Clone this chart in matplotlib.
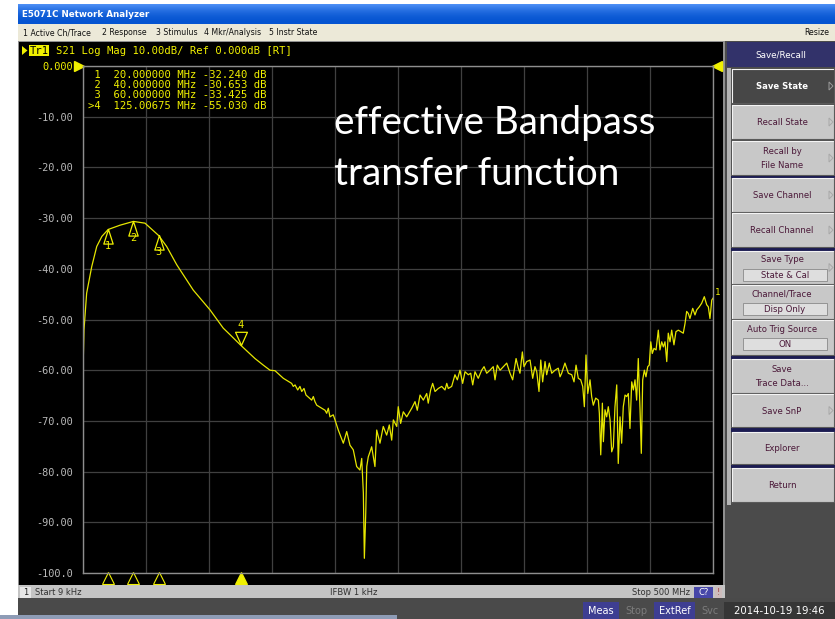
import numpy as np
import matplotlib.pyplot as plt
from matplotlib.patches import Rectangle, Polygon
from matplotlib.transforms import blended_transform_factory

W, H = 835, 619

# S21 trace, frequency in MHz and magnitude in dB
freq_mhz = [
    0.009, 0.8, 2.9, 6.9, 10.9, 15.0, 20.0, 29.4, 40.0, 49.2,
    60.0, 66.4, 74.4, 87.5, 100.8, 111.3, 116.7, 125.0, 136.5, 143.1,
    148.4, 152.4, 159.0, 165.6, 166.9, 168.3, 170.4, 172.2, 173.6, 175.4,
    177.0, 181.5, 182.8, 184.1, 185.5, 189.4, 192.1, 193.4, 194.7, 196.0,
    198.6, 200.0, 202.6, 206.6, 209.3, 211.9, 214.5, 217.2, 219.8, 221.2,
    222.5, 223.3, 224.4, 225.2, 226.4, 227.8, 229.1, 231.7, 233.1, 235.7,
    238.3, 241.0, 243.1, 245.0, 246.3, 249.0, 250.2, 252.1, 254.2, 256.9,
    260.9, 263.5, 265.3, 267.5, 270.1, 272.8, 274.0, 275.9, 277.5, 279.4,
    282.0, 284.7, 287.3, 288.7, 289.9, 292.6, 295.2, 297.1, 299.2, 301.3,
    303.2, 305.8, 307.7, 309.3, 311.1, 313.7, 316.4, 318.3, 320.4, 323.0,
    325.6, 327.0, 328.8, 331.0, 333.6, 336.3, 338.9, 341.0, 343.7, 345.5,
    346.8, 348.7, 350.0, 352.1, 354.8, 356.9, 358.7, 360.1, 361.9, 363.3,
    364.8, 366.7, 368.0, 370.1, 372.0, 374.6, 377.2, 378.6, 379.9, 382.5,
    385.2, 387.9, 389.7, 391.3, 393.1, 395.0, 396.6, 397.9, 399.2, 400.6,
    402.4, 403.7, 405.0, 406.9, 409.0, 409.8, 410.9, 412.2, 413.0, 414.3,
    415.6, 416.9, 418.3, 419.6, 420.9, 422.2, 423.6, 424.8, 426.2, 427.5,
    428.8, 430.2, 431.5, 432.8, 434.1, 435.5, 436.8, 438.1, 439.4, 440.7,
    442.1, 443.1, 444.2, 445.5, 446.8, 448.2, 449.4, 450.6, 451.8, 453.2,
    454.8, 456.6, 457.9, 459.3, 460.6, 461.9, 463.3, 464.5, 465.9, 467.2,
    469.0, 470.6, 472.5, 474.4, 476.4, 477.8, 479.1, 480.4, 481.7, 483.9,
    485.7, 487.1, 489.1, 491.0, 493.1, 495.0, 496.3, 497.6, 499.0, 500.0,
]
s21_db = [
    -60.0, -52.0, -44.8, -39.6, -35.6, -33.6, -32.24, -31.4, -30.653, -31.0,
    -33.425, -35.6, -39.2, -44.2, -48.1, -51.7, -53.0, -55.03, -57.7, -59.0,
    -60.0, -60.1, -61.6, -62.6, -63.2, -62.9, -63.9, -63.2, -64.2, -63.6,
    -64.9, -65.9, -65.2, -66.2, -66.9, -67.5, -67.9, -68.5, -67.5, -69.2,
    -68.8, -69.8, -71.8, -74.4, -72.1, -74.8, -75.7, -79.0, -79.7, -77.4,
    -84.2, -97.1, -88.2, -79.0, -77.1, -76.1, -75.1, -79.0, -71.8, -74.4,
    -71.1, -72.8, -70.8, -73.8, -69.8, -71.1, -67.2, -70.5, -68.2, -69.2,
    -67.5, -66.2, -67.9, -64.9, -65.9, -64.6, -66.5, -63.9, -62.6, -64.2,
    -63.6, -63.2, -63.9, -62.6, -63.6, -63.2, -60.9, -61.9, -60.0, -62.6,
    -60.3, -60.9, -60.6, -62.9, -60.3, -61.6, -60.0, -59.3, -60.6, -60.0,
    -59.3, -61.9, -59.0, -60.0, -59.3, -58.6, -60.6, -61.9, -57.7, -59.6,
    -60.6, -56.4, -59.3, -58.3, -58.0, -61.6, -59.3, -60.3, -64.2, -58.0,
    -62.3, -58.3, -60.9, -58.6, -60.6, -60.0, -59.6, -61.3, -60.6, -58.6,
    -60.6, -60.9, -62.3, -59.0, -61.6, -61.9, -63.2, -67.2, -57.0, -64.6,
    -61.9, -65.2, -66.9, -65.5, -65.9, -68.5, -76.7, -66.5, -74.1, -67.8,
    -69.2, -67.2, -69.8, -76.1, -75.1, -67.2, -62.9, -78.4, -69.2, -74.4,
    -67.2, -64.9, -65.2, -64.6, -71.5, -62.3, -63.9, -61.9, -65.9, -57.7,
    -67.8, -76.4, -61.9, -60.0, -61.3, -59.3, -59.0, -54.4, -56.7, -55.7,
    -56.0, -52.1, -56.0, -54.4, -55.4, -54.4, -58.3, -52.7, -54.4, -52.1,
    -55.0, -52.4, -52.1, -52.4, -52.7, -50.8, -48.4, -48.8, -49.8, -47.8,
    -49.1, -48.1, -47.5, -46.8, -45.5, -47.1, -47.5, -49.8, -46.2, -45.8,
]

marker_ids = ['1', '2', '3', '>4']
marker_freq = [20.0, 40.0, 60.0, 125.00675]
marker_db = [-32.240, -30.653, -33.425, -55.030]

y_ticks = [0, -10, -20, -30, -40, -50, -60, -70, -80, -90, -100]
y_labels = ['0.000', '-10.00', '-20.00', '-30.00', '-40.00', '-50.00',
            '-60.00', '-70.00', '-80.00', '-90.00', '-100.0']

menu_items = ['1 Active Ch/Trace', '2 Response', '3 Stimulus',
              '4 Mkr/Analysis', '5 Instr State']
softkey_labels = ['Save State', 'Recall State', 'Recall by\nFile Name',
                  'Save Channel', 'Recall Channel', 'Save Type',
                  'Channel/Trace', 'Auto Trig Source', 'Save\nTrace Data...',
                  'Save SnP', 'Explorer', 'Return']
softkey_values = [None, None, None, None, None, 'State & Cal',
                  'Disp Only', 'ON', None, None, None, None]

YEL = '#f0f000'
MONO = 'DejaVu Sans Mono'
UI = 'DejaVu Sans'

fig = plt.figure(figsize=(W / 100, H / 100), dpi=100)
fig.patch.set_facecolor('white')

ui = fig.add_axes([0, 0, 1, 1], zorder=0)
ui.axis('off')


def box(x0, y0, x1, y1, fc, ec='none', lw=0, ax=ui):
    ax.add_patch(Rectangle((x0, y0), x1 - x0, y1 - y0, facecolor=fc,
                           edgecolor=ec, linewidth=lw))


def raised(x0, y0, x1, y1, fc):
    box(x0, y0, x1, y1, fc)
    ui.plot([x0, x0, x1], [y1, y0, y0], color='#f4f4f4', lw=0.8)
    ui.plot([x0, x1, x1], [y1, y1, y0], color='#5a5a5a', lw=0.8)


# title bar with a vertical blue gradient
top = np.array([0.30, 0.56, 0.96])
bot = np.array([0.02, 0.33, 0.82])
t = np.linspace(0, 1, 20)[:, None, None]
grad = top * (1 - t) ** 2 + bot * (1 - (1 - t) ** 2)
ui.imshow(grad, extent=(18, W, 24, 4), aspect='auto', interpolation='bilinear')
ui.text(22, 14.5, 'E5071C Network Analyzer', color='white', fontsize=6.3,
        fontweight='bold', family=UI, va='center')

# menu bar
box(18, 24, W, 41, '#ece9d8')
for x, s in zip([23, 102, 156, 204, 269], menu_items):
    ui.text(x, 32.5, s, fontsize=5.6, family=UI, va='center', color='#101010')
ui.text(829, 32.5, 'Resize', fontsize=5.6, family=UI, va='center', ha='right',
        color='#101010')

# measurement window
box(18, 41, 725, 585, '#909090')
box(19, 42, 723, 585, 'black')

# trace header
ui.add_patch(Polygon([[22, 46], [22, 55], [27.5, 50.5]], closed=True,
                     facecolor=YEL, edgecolor='none'))
box(29, 44.5, 49, 56, YEL)
ui.text(30, 50.5, 'Tr1', fontsize=7.6, family=MONO, color='black', va='center')
ui.text(56, 50.5, 'S21 Log Mag 10.00dB/ Ref 0.000dB [RT]', fontsize=7.6,
        family=MONO, color=YEL, va='center')

# status line under the graticule
box(18, 585, 725, 600, '#c4c4c4')
box(20, 587, 31, 598, '#e6e6e6')
ui.text(25.5, 592.5, '1', fontsize=6, family=UI, ha='center', va='center',
        color='#202020')
ui.text(35, 592.5, 'Start 9 kHz', fontsize=6, family=UI, va='center',
        color='#303030')
ui.text(330, 592.5, 'IFBW 1 kHz', fontsize=6, family=UI, va='center',
        color='#303030')
ui.text(690, 592.5, 'Stop 500 MHz', fontsize=6, family=UI, va='center',
        ha='right', color='#303030')
box(694, 587, 713, 598, '#4646a8')
ui.text(703.5, 592.5, 'C?', fontsize=6, family=UI, ha='center', va='center',
        color='white')
box(714.5, 587, 722, 598, '#cdbcbc')
ui.text(718.2, 592.5, '!', fontsize=6, family=UI, ha='center', va='center',
        color='#a04848')

# instrument status bar
box(18, 598, W, H, '#4a4a4a')
box(0, 614.5, 397, H, '#8e9cb6')
for x0, x1, s, fc, tc in [(583, 619, 'Meas', '#3e3e92', 'white'),
                          (620, 652, 'Stop', '#4a4a4a', '#7c7c7c'),
                          (654, 695, 'ExtRef', '#3e3e92', 'white'),
                          (697, 722, 'Svc', '#4a4a4a', '#7c7c7c'),
                          (724, 835, '2014-10-19 19:46', '#363636', 'white')]:
    box(x0, 602, x1, H, fc)
    ui.text((x0 + x1) / 2, 610.5, s, fontsize=7.3 if x0 == 724 else 7,
            family=UI, ha='center', va='center', color=tc)

# softkey panel
box(725, 41, W, 598, '#4b4b4b')
box(727, 42, W, 67, '#32326a')
ui.text(781, 54.5, 'Save/Recall', fontsize=6.3, family=UI, ha='center',
        va='center', color='white')
box(727, 68, 731, 505, '#b4b4b4')
key_rows = [(69, 103), (105, 139), (141, 175), (178, 212), (213, 247),
            (251, 284), (285, 319), (320, 355), (359, 393), (394, 427),
            (432, 464), (468, 502)]
arrows = [True, True, True, True, True, True, False, False, False, True,
          False, False]
for y0, y1 in [(175.5, 178), (247.5, 250.5), (355.5, 359), (427.5, 431.5),
               (464.5, 467.5)]:
    box(731, y0, W, y1, '#1c1c52')
for i, (y0, y1) in enumerate(key_rows):
    dark = i == 0
    raised(732, y0, 834, y1, '#474747' if dark else '#c8c8c8')
    tc = 'white' if dark else '#4a1838'
    label, value = softkey_labels[i], softkey_values[i]
    if value is None:
        ui.text(782, (y0 + y1) / 2 + 0.5, label, fontsize=6.1, family=UI,
                ha='center', va='center', color=tc, linespacing=1.7,
                fontweight='bold' if dark else 'normal')
    else:
        ui.text(782, y0 + 9, label, fontsize=6.1, family=UI, ha='center',
                va='center', color=tc)
        box(743, y0 + 18, 827, y0 + 30, '#dedede', ec='#8a8a8a', lw=0.6)
        ui.text(785, y0 + 24.5, value, fontsize=6.1, family=UI, ha='center',
                va='center', color=tc)
    if arrows[i]:
        yc = (y0 + y1) / 2
        ui.add_patch(Polygon([[829, yc - 4], [829, yc + 4], [833, yc]],
                             closed=True, facecolor='none',
                             edgecolor='#9a9a9a' if dark else '#a8a8a8',
                             lw=0.7))

ui.set_xlim(0, W)
ui.set_ylim(H, 0)

# graticule
ax = fig.add_axes([83 / W, 1 - 573 / H, 630 / W, 507 / H], zorder=1)
ax.set_facecolor('black')
ax.plot(freq_mhz, s21_db, color='#e6e600', lw=0.9)
ax.set_xlim(0, 500)
ax.set_ylim(-100, 0)
ax.set_xticks(np.arange(0, 501, 50))
ax.set_xticklabels([])
ax.set_yticks(y_ticks)
ax.set_yticklabels(y_labels, family=MONO, fontsize=7.4)
for lab in ax.get_yticklabels():
    lab.set_color(YEL if lab.get_text() == '0.000' else '#b8b8b8')
ax.tick_params(length=0, pad=7.5)
ax.grid(True, color='#404040', lw=0.9)
for sp in ax.spines.values():
    sp.set_color('#8e8e8e')
    sp.set_linewidth(1.0)

# reference level arrows
ax.plot([-0.007], [1.0], marker='>', ms=7, color=YEL, transform=ax.transAxes,
        clip_on=False)
ax.plot([1.007], [1.0], marker='<', ms=7, color=YEL, transform=ax.transAxes,
        clip_on=False)

# markers on the trace
tri_up = [(0, 0), (-0.32, -1), (0.32, -1), (0, 0)]
tri_dn = [(0, 0), (-0.45, 1), (0.45, 1), (0, 0)]
for mid, f, db in zip(marker_ids, marker_freq, marker_db):
    num = mid.lstrip('>')
    if mid.startswith('>'):
        ax.plot([f], [db], marker=tri_dn, ms=19, mfc='none', mec=YEL, mew=0.9)
        ax.annotate(num, (f, db), xytext=(0, 15), textcoords='offset pixels',
                    ha='center', va='bottom', color=YEL, fontsize=7.4,
                    family=MONO)
    else:
        ax.plot([f], [db], marker=tri_up, ms=21, mfc='none', mec=YEL, mew=0.9)
        ax.annotate(num, (f, db), xytext=(0, -12), textcoords='offset pixels',
                    ha='center', va='top', color=YEL, fontsize=7.4,
                    family=MONO)
ax.annotate('1', (500, s21_db[-1]), xytext=(2, 1), textcoords='offset pixels',
            ha='left', va='bottom', color=YEL, fontsize=6.5, family=MONO,
            annotation_clip=False)

# marker positions along the bottom edge
edge = blended_transform_factory(ax.transData, ax.transAxes)
for mid, f in zip(marker_ids, marker_freq):
    active = mid.startswith('>')
    ax.plot([f], [-0.0105], marker='^', ms=8.5, transform=edge, clip_on=False,
            mfc=YEL if active else 'none', mec=YEL, mew=0.8)

# overlay texts on the graticule
over = fig.add_axes([0, 0, 1, 1], zorder=2)
over.axis('off')
over.set_xlim(0, W)
over.set_ylim(H, 0)
for i, (mid, f, db) in enumerate(zip(marker_ids, marker_freq, marker_db)):
    fs = f'{f:.6f}' if f < 100 else f'{f:.5f}'
    over.text(88, 75 + 10.2 * i, f'{mid:>2}  {fs} MHz {db:.3f} dB',
              family=MONO, fontsize=7.6, color=YEL, va='center')

over.text(334, 134, 'effective Bandpass', color='white', fontsize=27.8,
          family='Lato', va='baseline')
over.text(334, 185, 'transfer function', color='white', fontsize=27.8,
          family='Lato', va='baseline')

fig.savefig('out.png', dpi=100, facecolor=fig.get_facecolor())
